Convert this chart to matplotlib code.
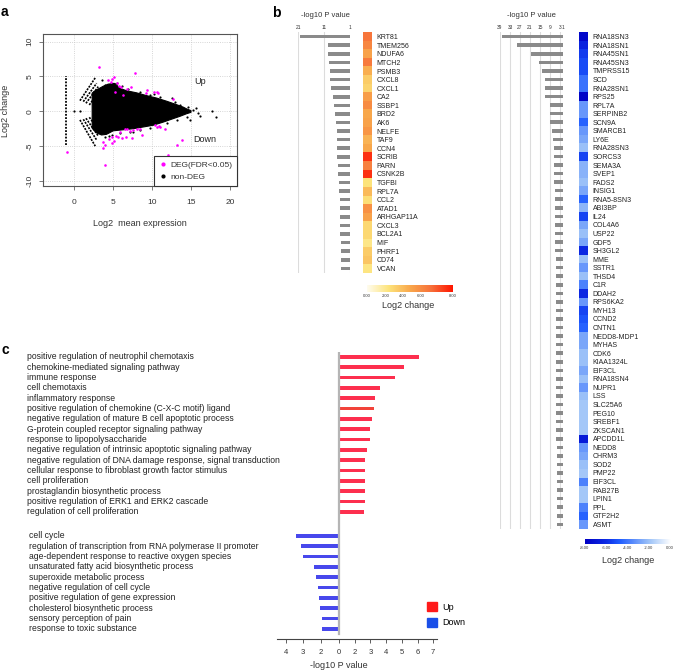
"""
MA plot, top DEG p-values with log2 change, GO terms of up/down genes
"""
import numpy as np
import matplotlib
matplotlib.use('Agg')
import matplotlib.pyplot as plt
import matplotlib.transforms as mtransforms
from matplotlib.colors import LinearSegmentedColormap, Normalize
from matplotlib.patches import Patch
from matplotlib.lines import Line2D

plt.rcParams['font.family'] = ['Liberation Sans', 'DejaVu Sans']

W, H = 677, 671

# ---------------- panel a : MA plot ----------------
# outline of the dense black cloud
cloud_upper_x = [2.30, 2.60, 3.08, 3.73, 4.37, 5.22, 5.87, 6.72, 8.01, 9.29, 10.58, 11.86, 13.15, 14.0, 14.43,
                 15.0]
cloud_upper_y = [2.60, 2.90, 3.20, 3.60, 3.90, 4.00, 3.30, 2.95, 2.65, 2.25, 1.90, 1.45, 0.95, 0.60, 0.35,
                 0.10]
cloud_lower_x = [15.0, 14.43, 13.58, 12.72, 11.43, 10.15, 8.87, 7.58, 6.30, 5.01, 4.15, 3.51, 2.87, 2.60, 2.30]
cloud_lower_y = [-0.15, -0.35, -0.72, -1.05, -1.55, -2.0, -2.25, -2.5, -2.65, -2.8, -3.3, -3.4, -3.1, -2.8,
                 -2.4]

# low count "chevron" streaks (start / end)
chev_x0 = [0.73, 1.16, 1.50, 1.93, 0.73, 1.16, 1.50, 1.93]
chev_y0 = [1.53, 1.39, 1.15, 0.91, -1.24, -1.15, -1.00, -0.86]
chev_x1 = [2.75, 2.87, 3.08, 3.30, 2.70, 2.87, 3.08, 3.30]
chev_y1 = [4.90, 4.02, 3.54, 3.06, -5.00, -4.11, -3.54, -2.92]

# genes with zero mean in one group
zero_col_x = [-1.0, -1.0]
zero_col_y = [-4.9, 5.0]

# scattered non-DEG points outside the cloud
nondeg_x = [0.0, 0.7, 5.44, 6.94, 8.44, 9.72, 11.0, 11.43, 12.5, 13.58, 14.65, 15.29, 15.93, 16.15, 17.64,
            18.16, 14.43, 13.15, 11.86, 9.72, 8.44, 7.15, 5.87, 4.8, 3.94, 3.51, 3.94, 14.9, 12.9, 10.2,
            7.6, 6.1, 4.4, 15.6]
nondeg_y = [0.1, 0.1, 4.02, 3.16, 2.82, 2.34, 2.11, 1.48, 1.87, 0.91, 0.57, 0.19, -0.19, -0.67, 0.0,
            -0.77, -0.86, -1.24, -1.72, -2.44, -2.68, -2.92, -3.16, -3.4, -3.64, 4.5, 3.78, -1.3, 1.4, 2.5,
            -2.9, 3.6, -3.6, 0.5]

deg_x = [3.21, 5.10, 4.37, 4.80, 4.67, 5.52, 5.78, 6.04, 6.72, 7.24, 7.79, 9.21, 10.24, 9.38, 10.75,
         5.22, 6.30, 10.6, 12.7,
         3.73, 4.50, 4.88, 5.35, 5.65, 6.08, 6.51, 6.81, 7.15, 7.58, 8.01, 8.44, 10.36, 10.66, 10.92,
         11.0, 3.73, 3.94, 5.10, 5.87, 6.64, 4.80, 3.94, 12.08, 13.15, 13.79, 11.65, -0.99, 7.37, 8.65]
deg_y = [6.32, 4.98, 4.50, 4.59, 4.16, 4.02, 3.68, 3.44, 3.16, 3.54, 5.45, 2.58, 2.78, 3.06, 2.58,
         2.82, 2.34, 2.8, 1.8,
         -4.35, -3.97, -3.64, -3.54, -3.73, -3.88, -2.58, -2.49, -2.78, -2.68, -2.54, -2.49, -1.96, -2.2, -2.06,
         -2.3, -5.31, -4.83, -4.21, -2.92, -3.73, -4.59, -7.7, -6.27, -4.83, -4.11, -2.58, -5.79, -3.78, -3.4]

# ---------------- panel b : up genes ----------------
up_genes = ['KRT81', 'TMEM256', 'NDUFA6', 'MTCH2', 'PSMB3', 'CXCL8', 'CXCL1', 'CA2', 'SSBP1', 'BRD2',
            'AK6', 'NELFE', 'TAF9', 'CCN4', 'SCRIB', 'PARN', 'CSNK2B', 'TGFBI', 'RPL7A', 'CCL2',
            'ATAD1', 'ARHGAP11A', 'CXCL3', 'BCL2A1', 'MIF', 'PHRF1', 'CD74', 'VCAN']
up_logp = [20.4, 9.6, 9.4, 9.1, 8.9, 8.6, 8.2, 7.5, 7.1, 6.7, 6.4, 6.2, 6.0, 6.0, 5.9, 5.6, 5.6, 5.3,
           5.3, 5.0, 5.0, 4.9, 4.7, 4.7, 4.5, 4.5, 4.5, 4.4]
up_lfc = [5.8, 5.2, 4.2, 5.6, 3.8, 2.8, 2.5, 4.4, 5.0, 4.0, 4.2, 4.6, 3.6, 4.0, 7.4, 5.4, 7.4, 2.0,
          3.4, 2.2, 4.8, 4.2, 2.4, 2.4, 1.8, 2.8, 3.0, 1.9]
up_pticks = [21, 11, 1]
up_cticks = [0, 1.73, 3.4, 5.05, 8]
up_cticklabels = ['0.00', '2.00', '4.00', '6.00', '8.00']

# ---------------- panel b : down genes ----------------
down_genes = ['RNA18SN3', 'RNA18SN1', 'RNA45SN1', 'RNA45SN3', 'TMPRSS15', 'SCD', 'RNA28SN1', 'RPS25',
              'RPL7A', 'SERPINB2', 'SCN9A', 'SMARCB1', 'LY6E', 'RNA28SN3', 'SORCS3', 'SEMA3A', 'SVEP1',
              'FADS2', 'INSIG1', 'RNA5-8SN3', 'ABI3BP', 'IL24', 'COL4A6', 'USP22', 'GDF5', 'SH3GL2',
              'MME', 'SSTR1', 'THSD4', 'C1R', 'DDAH2', 'RPS6KA2', 'MYH13', 'CCND2', 'CNTN1',
              'NEDD8-MDP1', 'MYHAS', 'CDK6', 'KIAA1324L', 'EIF3CL', 'RNA18SN4', 'NUPR1', 'LSS',
              'SLC25A6', 'PEG10', 'SREBF1', 'ZKSCAN1', 'APCDD1L', 'NEDD8', 'CHRM3', 'SOD2', 'PMP22',
              'EIF3CL', 'RAB27B', 'LPIN1', 'PPL', 'GTF2H2', 'ASMT']
down_logp = [38, 29, 20.4, 15.6, 14, 12.2, 12.2, 11.8, 9.2, 9.2, 9.2, 7.6, 7.0, 6.8, 6.6, 6.4, 6.4,
             6.4, 6.2, 6.0, 6.0, 6.0, 6.0, 5.8, 5.8, 5.8, 5.6, 5.6, 5.6, 5.6, 5.6, 5.4, 5.4, 5.4, 5.4,
             5.4, 5.4, 5.4, 5.4, 5.4, 5.4, 5.2, 5.2, 5.2, 5.2, 5.2, 5.2, 5.2, 5.0, 5.0, 5.0, 5.0,
             5.0, 5.0, 4.8, 4.8, 4.8, 4.8]
down_lfc = [-7.6, -6.4, -5.6, -5.2, -5.2, -4.2, -4.2, -7.8, -3.2, -3.2, -4.6, -3.2, -2.8, -2.1, -5.4,
            -2.5, -2.5, -2.1, -2.8, -4.6, -2.4, -5.4, -2.8, -2.1, -2.8, -6.2, -2.1, -3.2, -2.1, -3.8,
            -6.2, -3.2, -5.4, -5.0, -4.6, -2.8, -2.8, -2.1, -2.1, -2.8, -2.1, -3.2, -2.1, -1.9, -1.9,
            -1.9, -1.9, -6.8, -3.2, -2.8, -2.1, -1.9, -3.8, -1.9, -1.9, -3.8, -4.6, -3.2]
down_pticks = [39, 33, 27, 21, 15, 9, 3, 1]
down_cticks = [-8, -6, -4, -2, 0]

# ---------------- panel c : GO terms ----------------
go_up_terms = ['positive regulation of neutrophil chemotaxis', 'chemokine-mediated signaling pathway',
               'immune response', 'cell chemotaxis', 'inflammatory response',
               'positive regulation of chemokine (C-X-C motif) ligand',
               'negative regulation of mature B cell apoptotic process',
               'G-protein coupled receptor signaling pathway', 'response to lipopolysaccharide',
               'negative regulation of intrinsic apoptotic signaling pathway',
               'negative regulation of DNA damage response, signal transduction',
               'cellular response to fibroblast growth factor stimulus', 'cell proliferation',
               'prostaglandin biosynthetic process', 'positive regulation of ERK1 and ERK2 cascade',
               'regulation of cell proliferation']
go_up_vals = [5.1, 4.14, 3.57, 2.61, 2.27, 2.21, 2.1, 1.99, 1.99, 1.8, 1.68, 1.68, 1.68, 1.66, 1.66, 1.61]
go_down_terms = ['cell cycle', 'regulation of transcription from RNA polymerase II promoter',
                 'age-dependent response to reactive oxygen species',
                 'unsaturated fatty acid biosynthetic process', 'superoxide metabolic process',
                 'negative regulation of cell cycle', 'positive regulation of gene expression',
                 'cholesterol biosynthetic process', 'sensory perception of pain',
                 'response to toxic substance']
go_down_vals = [-2.74, -2.4, -2.29, -1.61, -1.45, -1.32, -1.25, -1.23, -1.1, -1.06]
go_ticks = [-3.4, -2.3, -1.15, 0, 1, 2, 3, 4, 5, 6]
go_ticklabels = ['4', '3', '2', '0', '2', '3', '4', '5', '6', '7']


def px_axes(fig, left, top, right, bottom):
    # axes from pixel box of the 677x671 picture
    return fig.add_axes([left / W, 1 - bottom / H, (right - left) / W, (bottom - top) / H])


def px_text(fig, x, y, s, **kw):
    fig.text(x / W, 1 - y / H, s, **kw)


fig = plt.figure(figsize=(W / 100, H / 100), dpi=100)

px_text(fig, 1, 12, 'a', fontsize=10, fontweight='bold', va='center')
px_text(fig, 272, 13, 'b', fontsize=10, fontweight='bold', va='center')
px_text(fig, 1, 350, 'c', fontsize=10, fontweight='bold', va='center')

# ---- a ----
ax = px_axes(fig, 43.3, 34.3, 237.3, 186)
ax.set_xlim(-3.98, 20.95)
ax.set_ylim(-10.72, 11.05)
ax.grid(True, ls=':', color='#c8c8c8', lw=0.6)
ax.set_axisbelow(True)
ax.fill(cloud_upper_x + cloud_lower_x, cloud_upper_y + cloud_lower_y, color='black', lw=0.8, zorder=2)
for i in range(len(chev_x0)):
    ax.plot([chev_x0[i], chev_x1[i]], [chev_y0[i], chev_y1[i]], color='black', lw=1.2,
            dashes=(1.2, 0.7), zorder=2)
ax.plot(zero_col_x, zero_col_y, color='black', lw=1.3, dashes=(1.0, 0.8), zorder=2)
ax.scatter(nondeg_x, nondeg_y, s=2.5, color='black', lw=0, zorder=3)
ax.scatter(deg_x, deg_y, s=3.5, color='#ff00ff', lw=0, zorder=4)
ax.text(16.2, 4.25, 'Up', fontsize=6.5, ha='center', va='center', color='#222')
ax.text(16.8, -4.1, 'Down', fontsize=6.5, ha='center', va='center', color='#222')
ax.set_xticks([0, 5, 10, 15, 20])
ax.set_yticks([-10, -5, 0, 5, 10])
ax.set_yticklabels(['-10', '-5', '0', '5', '10'], rotation=90, va='center')
ax.tick_params(axis='both', length=3, width=0.6, color='#666', labelsize=6, labelcolor='#333')
ax.tick_params(axis='x', pad=6)
ax.tick_params(axis='y', pad=4)
for sp in ax.spines.values():
    sp.set_color('#555')
    sp.set_linewidth(0.8)
leg = ax.legend(handles=[Line2D([], [], ls='', marker='o', ms=2, color='#ff00ff', label='DEG(FDR<0.05)'),
                         Line2D([], [], ls='', marker='o', ms=2, color='black', label='non-DEG')],
                loc='lower right', borderaxespad=0, fontsize=6, fancybox=False, framealpha=1,
                handletextpad=0.4, handlelength=1.0, labelspacing=0.5, borderpad=0.6)
leg.get_frame().set_edgecolor('#333')
leg.get_frame().set_linewidth(0.8)
for t in leg.get_texts():
    t.set_color('#333')
px_text(fig, 140, 224, 'Log2  mean expression', fontsize=6.5, ha='center', va='center', color='#333')
px_text(fig, 6, 111, 'Log2 change', fontsize=6.5, ha='center', va='center', rotation=90, color='#333')

# ---- b, up genes ----
up_cmap = LinearSegmentedColormap.from_list('up', ['#fffcef', '#fde47c', '#f9a84c', '#f7703a', '#ff1500'])
down_cmap = LinearSegmentedColormap.from_list(
    'down', [(0, '#0000c4'), (0.25, '#0d2ce6'), (0.4, '#1f5cff'), (0.75, '#9fc4f8'), (1, '#ffffff')])


def pbars(ax, vals, ticks):
    rows = np.arange(len(vals))
    ax.barh(rows, vals, height=0.42, color='#8a8a8a', zorder=2)
    ax.set_xlim(ticks[0], 1)
    ax.set_ylim(len(vals) - 0.5, -0.5)
    ax.set_xticks(ticks)
    ax.set_yticks([])
    ax.grid(axis='x', color='#dcdcdc', lw=0.8)
    ax.xaxis.tick_top()
    ax.tick_params(axis='x', length=0, labelsize=3.5, pad=1.5, labelcolor='#333')
    for sp in ax.spines.values():
        sp.set_visible(False)


def heat(ax, names, vals, cmap, vmin, vmax):
    ax.imshow(np.array(vals).reshape(-1, 1), cmap=cmap, norm=Normalize(vmin, vmax), aspect='auto')
    ax.set_xticks([])
    ax.yaxis.tick_right()
    ax.set_yticks(np.arange(len(names)))
    ax.set_yticklabels(names)
    ax.tick_params(axis='y', length=0, labelsize=5, pad=3.5, labelcolor='#222')
    for sp in ax.spines.values():
        sp.set_visible(False)


def cbar(ax, cmap, vmin, vmax, ticks, labels):
    ax.imshow(np.linspace(vmin, vmax, 256)[None, :], cmap=cmap, norm=Normalize(vmin, vmax),
              aspect='auto', extent=[vmin, vmax, 0, 1])
    ax.set_yticks([])
    ax.set_xticks(ticks)
    ax.set_xticklabels(labels)
    ax.tick_params(axis='x', length=0, labelsize=3, pad=1.5, labelcolor='#333')
    for sp in ax.spines.values():
        sp.set_visible(False)


ax = px_axes(fig, 298.3, 32.4, 350, 272.6)
pbars(ax, up_logp, up_pticks)
px_text(fig, 325, 15.7, '-log10 P value', fontsize=5.5, ha='center', va='center', color='#333')
ax = px_axes(fig, 363.3, 32.4, 372, 272.6)
heat(ax, up_genes, up_lfc, up_cmap, 0, 8)
ax = px_axes(fig, 366.7, 285, 452.7, 291.7)
cbar(ax, up_cmap, 0, 8, up_cticks, up_cticklabels)
px_text(fig, 408, 305, 'Log2 change', fontsize=6.5, ha='center', va='center', color='#333')

# ---- b, down genes ----
ax = px_axes(fig, 500, 32.4, 563.3, 528.6)
pbars(ax, down_logp, down_pticks)
px_text(fig, 531, 15.7, '-log10 P value', fontsize=5.5, ha='center', va='center', color='#333')
ax = px_axes(fig, 579.3, 32.4, 587.7, 528.6)
heat(ax, down_genes, down_lfc, down_cmap, -8, 0)
ax = px_axes(fig, 584.7, 539, 670, 544)
cbar(ax, down_cmap, -8, 0, down_cticks, ['%.2f' % v for v in down_cticks])
px_text(fig, 627.7, 560.7, 'Log2 change', fontsize=6.5, ha='center', va='center', color='#333')

# ---- c ----
ax = px_axes(fig, 277, 351.5, 437.3, 639)
up_pos = np.arange(len(go_up_vals))
down_pos = len(go_up_vals) + 1.3 + np.arange(len(go_down_vals))
up_colors = ['#fd2f4e'] * len(go_up_vals)
up_colors[5] = '#f2433a'
ax.barh(up_pos, go_up_vals, height=0.36, color=up_colors)
ax.barh(down_pos, go_down_vals, height=0.36, color='#4848ec')
ax.plot([0, 0], [-0.5, down_pos[-1] + 0.5], color='#b5b5b5', lw=1.6)
ax.set_xlim(-3.95, 6.26)
ax.set_ylim(down_pos[-1] + 0.98, -0.5)
ax.set_yticks([])
ax.set_xticks(go_ticks)
ax.set_xticklabels(go_ticklabels)
ax.tick_params(axis='x', length=3, width=0.6, color='#444', labelsize=5.5, pad=4, labelcolor='#333')
for side in ['top', 'right', 'left']:
    ax.spines[side].set_visible(False)
ax.spines['bottom'].set_color('#444')
ax.spines['bottom'].set_linewidth(0.8)
trans = mtransforms.blended_transform_factory(fig.transFigure, ax.transData)
for term, y in zip(go_up_terms, up_pos):
    ax.text(27 / W, y, term, transform=trans, ha='left', va='center', fontsize=6.2, color='#222')
for term, y in zip(go_down_terms, down_pos):
    ax.text(29 / W, y, term, transform=trans, ha='left', va='center', fontsize=6.2, color='#222')
ax.legend(handles=[Patch(color='#ff1a1a', label='Up'), Patch(color='#1a4fe8', label='Down')],
          loc='upper left', bbox_to_anchor=(421 / W, 1 - 596 / H), bbox_transform=fig.transFigure,
          frameon=False, fontsize=6.5, handlelength=1.1, handleheight=1.1, labelspacing=0.7,
          handletextpad=0.6, borderpad=0.2)
px_text(fig, 339, 666, '-log10 P value', fontsize=6.5, ha='center', va='center', color='#333')

fig.savefig('out.png', dpi=100)
